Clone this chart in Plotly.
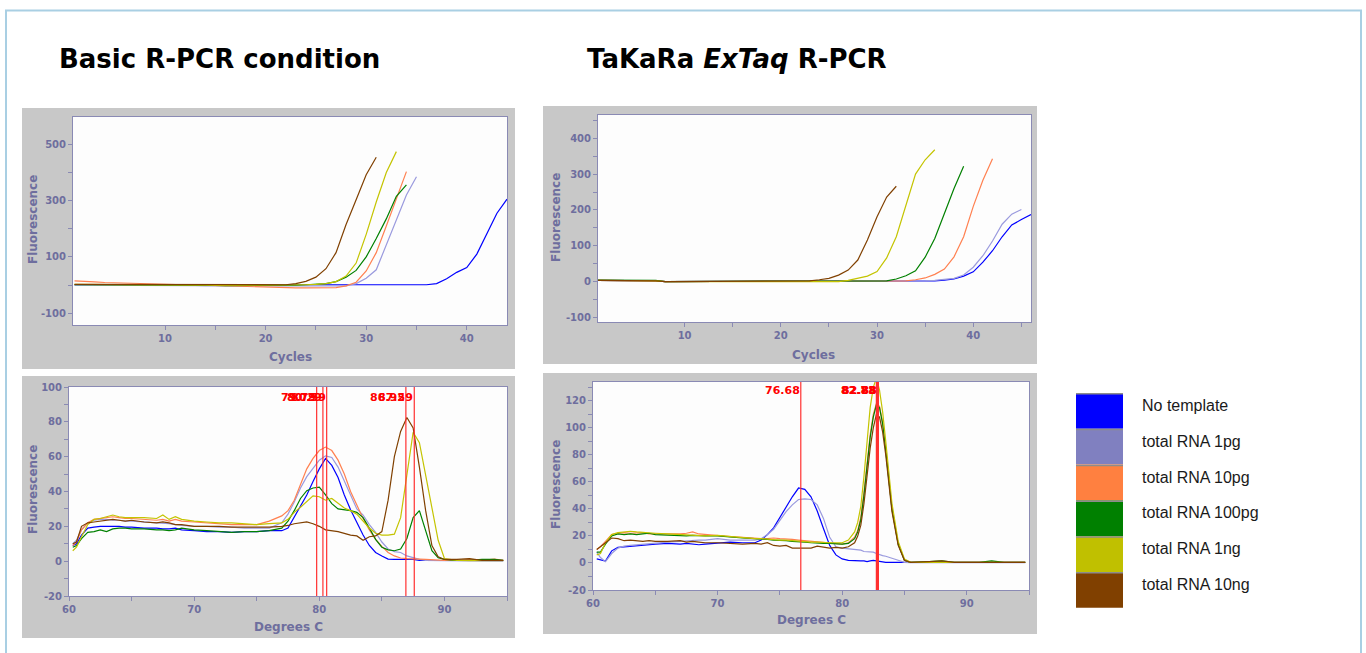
import plotly.graph_objects as go

W, H = 1366, 653

# ---------------- data ----------------
SERIES = ["No template", "total RNA 1pg", "total RNA 10pg",
          "total RNA 100pg", "total RNA 1ng", "total RNA 10ng"]
LINE_COLORS = ["#0000ff", "#9a9ade", "#ff8050", "#008000", "#c4c400", "#804000"]
KEY_COLORS = ["#0000ff", "#8080c0", "#ff8040", "#008000", "#c0c000", "#804000"]
PANEL_TITLES = ["Basic R-PCR condition", "TaKaRa <i>ExTaq</i> R-PCR"]

# Amplification curves, basic condition (values per cycle starting at cycle 1)
basic_blue = [1, 1, 1, 1, 0, 0, 0, 0, 0, 0,
              0, 0, 0, 0, 0, 0, 0, 0, -1, -1,
              -1, -1, -1, -1, -1, -1, -1, -1, -1, -1,
              0, 0, 0, 0, 0, 1,
              5, 22, 45, 62, 110, 180, 255, 305]
basic_purple = [0, 0, 0, 0, 0, 0, 0, 0, 0, 0,
                0, 0, -2, -3, -3, -3, -2, -2, -2, -2,
                -2, -2, -3, -3, -3, -3, -3, -3, 5,
                24, 54, 143, 237, 320, 385]
basic_orange = [15, 14, 11, 9, 8, 7, 6, 5, 4, 3,
                2, 1, 0, -1, -2, -3, -4, -6, -8, -9,
                -10, -10, -10, -10, -10, -10, -9, -3,
                10, 50, 115, 210, 310, 403]
basic_green = [1, 1, 1, 1, 1, 1, 0, 0, 0, 0,
               0, 0, 0, 0, -1, -2, -2, -2, -2, -2,
               -1, -1, 0, 1, 2,
               5, 12, 28, 52, 100, 165, 235, 315, 356]
basic_yellow = [2, 2, 2, 2, 1, 1, 1, 1, 1, 1,
                0, 0, 0, 0, -1, -1, -1, -1, -1, -1,
                -1, 0, 0, 1, 2, 5,
                12, 32, 78, 180, 295, 400, 474]
basic_brown = [2, 2, 2, 2, 2, 1, 1, 1, 1, 1,
               1, 1, 0, 0, 0, 0, 0, 0, 0, 0,
               0, 1,
               5, 13, 28, 58, 115, 215, 303, 392, 454]

# Amplification curves, TaKaRa ExTaq
extaq_blue = [3, 3, 3, 3, 3, 3, 2, 0, 0, 0,
              0, 0, 0, 0, 0, 0, 0, 0, 0, 0,
              0, 0, 0, 0, 0, 0, 0, 0, 0, 0,
              0, 0, 0, 1, 1,
              2, 4, 7, 15, 27, 54, 86, 125, 158, 173, 187]
extaq_purple = [3, 3, 3, 3, 3, 3, 2, 0, 0, 0,
                0, 0, 0, 0, 0, 0, 0, 0, 0, 0,
                0, 0, 0, 0, 0, 0, 0, 0, 0, 0,
                0, 0, 1, 1, 2,
                3, 6, 9, 18, 40, 72, 113, 160, 188, 201]
extaq_orange = [3, 3, 3, 3, 3, 3, 2, 0, 0, 0,
                0, 0, 0, 0, 0, 0, 0, 0, 0, 0,
                0, 0, 0, 0, 0, 0, 0, 0, 0, 0,
                0, 1,
                2, 5, 10, 20, 35, 69, 125, 210, 283, 343]
extaq_green = [4, 4, 4, 4, 4, 4, 3, 0, 0, 0,
               0, 0, 0, 0, 0, 0, 0, 0, 0, 0,
               0, 0, 0, 0, 0, 0, 0, 0, 0,
               1, 2, 7, 16, 30, 68, 120, 190, 260, 322]
extaq_yellow = [3, 3, 3, 3, 3, 3, 2, 0, 0, 0,
                0, 0, 0, 0, 0, 0, 0, 0, 0, 0,
                0, 0, 0, 0, 0, 0,
                3, 8, 15, 28, 66, 125, 215, 300, 340, 368]
extaq_brown = [3, 3, 3, 3, 3, 3, 2, 0, 0, 0,
               0, 0, 0, 0, 0, 0, 0, 0, 0, 0,
               0, 0,
               2, 5, 9, 18, 32, 60, 116, 181, 236, 266]

# Melt curves, basic condition
melt_temp_basic = [60.3, 60.6, 61, 61.5, 62, 62.5, 63, 63.5, 64, 64.5,
                   65, 66, 67, 67.5, 68, 68.5, 69, 70, 71, 72,
                   73, 74, 75, 76, 77, 77.5, 78, 78.5, 79, 79.5,
                   80, 80.5, 81, 81.5, 82, 82.5, 83, 83.5, 84, 84.5,
                   85, 85.5, 86, 86.5, 87, 87.5, 88, 88.5, 89, 89.5,
                   90, 91, 92, 93, 94, 94.7]
mb_blue = [9, 10, 15, 19, 19.5, 20, 20, 20, 20, 19.5,
           19.5, 19, 19, 18.5, 18.5, 19, 18, 17.5, 17, 17,
           16.5, 17, 17, 17.5, 17.5, 19, 25.5, 31.5, 38, 45.7,
           53, 59, 55, 48, 38, 29.5, 22, 15, 9, 5,
           3, 1.2, 1, 1, 1, 1, 0.5, 0.5, 0.5, 0.5,
           0.3, 0.3, 0.3, 0.5, 0.3, 0.3]
mb_purple = [10, 12, 18, 22, 23.5, 24, 24, 23.5, 23.5, 23,
             23, 22.5, 22, 22, 21.5, 21, 20.5, 20, 20, 19.5,
             19.5, 19, 19, 19, 22, 27, 34, 42, 48.5, 53,
             58, 60.5, 59.5, 54, 46, 37, 30, 26.5, 21, 16.5,
             11, 7, 5.5, 5, 3, 2, 1, 0.5, 0.5, 0.3,
             0.3, 0.3, 0.3, 0.3, 0.3, 0.3]
mb_orange = [9, 11, 18, 22, 24, 24.5, 25, 25.5, 25, 24.5,
             24.5, 24, 23.5, 24, 23, 24, 23, 22.5, 22, 21.5,
             21, 21, 21, 23, 26, 29, 35, 44, 53, 59,
             63.5, 65.5, 63.5, 58, 50, 40, 32, 24.5, 18, 12.5,
             8.5, 5, 3, 1.8, 1.5, 1.5, 1.2, 1, 0.8, 0.5,
             0.5, 0.5, 1, 0.5, 1.2, 0.5]
mb_green = [8, 9, 13, 16.5, 17, 18, 17, 18.5, 19, 19,
            18.5, 18.5, 18, 18, 17.5, 18, 19, 18, 17.5, 17,
            16.5, 17, 17, 17.5, 19, 23, 29, 36, 40.5, 42,
            42.5, 38, 33, 30, 29.5, 29, 28, 25, 19, 12.5,
            8, 6.5, 6, 7, 13, 25, 29, 18, 6, 2,
            1, 0.5, 0.5, 1, 1, 0.5]
mb_yellow = [6, 8, 14, 21, 24, 24.5, 25.5, 26.5, 25.5, 25,
             25, 25, 24.5, 26.5, 24, 25.5, 24, 23, 22.5, 22,
             22, 21.5, 21, 21.5, 22, 24, 28, 31, 34, 37.5,
             37, 35, 36, 33, 30.5, 29, 27, 23, 19, 16,
             15, 15, 15.5, 25, 50, 74, 68, 50, 30, 12,
             1.5, 0.5, 0.3, 0.3, 0.3, 0.3]
mb_brown = [10, 11, 20, 22, 22.5, 23, 23.5, 24, 23.5, 23,
            23.5, 22.5, 22, 22.5, 22, 21, 21, 20, 20, 20,
            19.5, 19.5, 19.5, 19.5, 20, 20.5, 21.5, 22, 22.5, 21.5,
            20, 18, 17.5, 17, 16, 15, 14.5, 12, 14, 14.5,
            17, 35, 60, 74.5, 82.5, 76.5, 54, 29, 9, 2.5,
            1, 1, 1.5, 0.5, 0.5, 0.5]

# Melt curves, TaKaRa ExTaq
melt_temp_extaq = [60.3, 60.6, 61, 61.5, 62, 62.5, 63, 63.5, 64, 64.5,
                   65, 66, 67, 67.5, 68, 68.5, 69, 70, 71, 72,
                   73, 73.5, 74, 74.5, 75, 75.5, 76, 76.5, 77, 77.5,
                   78, 78.5, 79, 79.5, 80, 80.5, 81, 81.25, 81.5, 81.75,
                   82, 82.25, 82.5, 82.75, 83, 83.25, 83.5, 83.75, 84, 84.5,
                   85, 85.5, 86, 87, 88, 89, 90, 91, 92, 93,
                   94, 94.7]
me_blue = [3, 2.5, 1.5, 9, 11.5, 12, 12.5, 13, 13.5, 14,
           14, 14.5, 14, 14.5, 14, 13.5, 14, 15, 15.5, 15,
           15, 17, 21, 26, 34, 42, 49, 55.5, 54.5, 49,
           38.5, 25.5, 13, 6, 3, 2, 1.5, 1.5, 1.5, 1.5,
           1, 1.5, 2, 1.5, 1, 0.5, 0.5, 0.5, 0.5, 0.5,
           0.5, 0.5, 0.5, 0.5, 0.5, 0.5, 0.5, 0.5, 0.5, 0.5,
           1, 0.5]
me_purple = [8, 4, 1, 7, 11, 12.5, 13, 13.5, 14, 14.5,
             15, 15.5, 16, 16.5, 16.5, 17, 17, 18, 17, 17,
             17, 18, 21, 25, 32, 38, 43, 47, 47.5, 47,
             43, 33, 19, 12, 11, 10.5, 10.5, 10, 9.5, 8.5,
             8.5, 8.5, 8, 7, 6, 5.5, 5, 4, 3.5, 2,
             0.5, 0.3, 0.3, 0.3, 0.3, 0.3, 0.3, 0.3, 0.3, 0.3,
             0.3, 0.3]
me_orange = [10, 12, 16, 21, 22, 22.5, 22, 22, 22.5, 21.5,
             21.5, 21, 21.5, 22, 23, 21.5, 21, 20.5, 19.5, 19,
             18, 18, 18, 18.5, 18, 18, 17.5, 17, 16.5, 16,
             15.5, 15, 14.5, 14, 14, 15, 19, 24, 34, 52,
             75, 95, 110, 118, 116, 104, 84, 60, 40, 14,
             2, 0.5, 0.5, 1, 1, 0.5, 0.5, 0.5, 0.5, 1,
             0.5, 0.5]
me_green = [8, 8, 14, 20, 21.5, 21, 21.5, 21, 21.5, 22,
            21, 20.5, 20.5, 20, 20.5, 20, 20, 20, 19, 18.5,
            18, 18, 17.5, 17, 17, 16.5, 16, 16, 15.5, 15,
            14.5, 14.5, 14.5, 14, 14, 14.5, 18, 23, 32, 50,
            72, 93, 108, 117, 115, 103, 83, 60, 40, 14,
            2, 0.5, 0.5, 1, 1.5, 0.5, 0.5, 0.5, 1.5, 0.5,
            0.5, 0.5]
me_yellow = [6, 7, 15, 21, 22.5, 23, 23.5, 23, 22.5, 22,
             22, 21.5, 21, 20.5, 20.5, 20, 20, 20.5, 19.5, 18.5,
             18, 18, 17.5, 17, 17, 17, 16.5, 16, 16, 15.5,
             15.5, 15, 15, 15, 15, 17, 23, 30, 42, 64,
             92, 115, 130, 137, 128, 112, 90, 65, 44, 16,
             3, 0.5, 0.5, 0.5, 0.5, 0.5, 1, 0.5, 0.5, 0.5,
             0.5, 0.5]
me_brown = [10, 12, 15, 18.5, 18, 16.5, 17, 16.5, 16, 16.5,
            16, 16, 16.5, 15.5, 16, 15.5, 15, 15, 14.5, 14,
            14.5, 14, 15, 13, 12.5, 13, 11, 11, 11, 11,
            12.5, 11.5, 11, 11.5, 11, 12, 15, 20, 28, 44,
            65, 85, 100, 110, 108, 97, 80, 58, 38, 13,
            2, 0.5, 0.5, 1, 1.5, 0.5, 0.5, 0.5, 0.5, 0.5,
            0.5, 0.5]

# Melting-peak markers (degrees C)
peaks_basic = [79.79, 80.29, 80.59, 86.92, 87.59]
peaks_extaq = [76.68, 82.78, 82.83, 82.88]

# Tick labels
amp_x_ticks = [10, 20, 30, 40]
amp_x_minor = [15, 25, 35, 45]
amp1_y_ticks = [-100, 100, 300, 500]
amp1_y_minor = [0, 200, 400, 600]
amp2_y_ticks = [-100, 0, 100, 200, 300, 400]
amp2_y_minor = [-50, 50, 150, 250, 350, 450]
melt_x_ticks = [60, 70, 80, 90]
melt_x_minor = [65, 75, 85, 95]
melt1_y_ticks = [-20, 0, 20, 40, 60, 80, 100]
melt1_y_minor = [-10, 10, 30, 50, 70, 90]
melt2_y_ticks = [-20, 0, 20, 40, 60, 80, 100, 120]
melt2_y_minor = [-10, 10, 30, 50, 70, 90, 110, 130]

# ---------------- layout helpers ----------------
def fx(px):
    return px / W


def fy(py):
    return 1 - py / H


SLATE = "#6e6e9e"
AXLINE = "#8a8ab4"
TICKFONT = dict(family="DejaVu Sans", size=10, color=SLATE, weight="bold")
TITLEFONT = dict(family="DejaVu Sans", size=12, color=SLATE, weight="bold")

amp_basic = [basic_blue, basic_purple, basic_orange, basic_green, basic_yellow, basic_brown]
amp_extaq = [extaq_blue, extaq_purple, extaq_orange, extaq_green, extaq_yellow, extaq_brown]
melt_basic = [mb_blue, mb_purple, mb_orange, mb_green, mb_yellow, mb_brown]
melt_extaq = [me_blue, me_purple, me_orange, me_green, me_yellow, me_brown]

panels = [
    dict(gray=(22, 108, 515, 369), plot=(73, 117, 507, 325),
         xr=[0.85, 44.0], yr=[-142, 597],
         xt=amp_x_ticks, xm=amp_x_minor[:3], yt=amp1_y_ticks, ym=amp1_y_minor,
         ylab=(33, 220), xlab=(290, 357), xtitle="Cycles"),
    dict(gray=(543, 106, 1037, 364), plot=(598, 115, 1031, 322),
         xr=[1.0, 46.0], yr=[-113, 465],
         xt=amp_x_ticks, xm=amp_x_minor, yt=amp2_y_ticks, ym=amp2_y_minor,
         ylab=(556, 218), xlab=(813, 355), xtitle="Cycles"),
    dict(gray=(22, 376, 515, 638), plot=(69, 387, 507, 596),
         xr=[60, 95], yr=[-20, 100],
         xt=melt_x_ticks, xm=melt_x_minor, yt=melt1_y_ticks, ym=melt1_y_minor,
         ylab=(33, 490), xlab=(288, 627), xtitle="Degrees C"),
    dict(gray=(543, 373, 1037, 634), plot=(593, 382, 1029, 590),
         xr=[60, 95], yr=[-20, 134],
         xt=melt_x_ticks, xm=melt_x_minor, yt=melt2_y_ticks, ym=melt2_y_minor,
         ylab=(556, 485), xlab=(811, 620), xtitle="Degrees C"),
]

fig = go.Figure()
shapes = []
annotations = []
layout_axes = {}

# page border
shapes.append(dict(type="rect", xref="paper", yref="paper",
                   x0=fx(6), x1=fx(1361), y0=fy(680), y1=fy(10.5),
                   line=dict(color="#a9cfe3", width=2), fillcolor="rgba(0,0,0,0)",
                   layer="below"))

for i, p in enumerate(panels):
    n = i + 1
    sfx = "" if n == 1 else str(n)
    gx0, gy0, gx1, gy1 = p["gray"]
    px0, py0, px1, py1 = p["plot"]
    shapes.append(dict(type="rect", xref="paper", yref="paper",
                       x0=fx(gx0), x1=fx(gx1), y0=fy(gy1), y1=fy(gy0),
                       line=dict(width=0), fillcolor="#c8c8c8", layer="below"))
    shapes.append(dict(type="rect", xref="paper", yref="paper",
                       x0=fx(px0), x1=fx(px1), y0=fy(py1), y1=fy(py0),
                       line=dict(width=0), fillcolor="#fdfdfd", layer="below"))
    common = dict(showline=True, linecolor=AXLINE, linewidth=1, mirror=True,
                  ticks="outside", ticklen=4, tickwidth=1, tickcolor=AXLINE,
                  tickfont=TICKFONT, showgrid=False, zeroline=False,
                  showspikes=False,
                  autorange=False, fixedrange=True, automargin=False)
    layout_axes["xaxis" + sfx] = dict(
        common, domain=[fx(px0), fx(px1)], range=p["xr"], anchor="y" + sfx,
        tickmode="array", tickvals=p["xt"], ticktext=[str(v) for v in p["xt"]],
        minor=dict(tickmode="array", tickvals=p["xm"], ticks="outside",
                   ticklen=4, tickwidth=1, tickcolor=AXLINE, showgrid=False))
    layout_axes["yaxis" + sfx] = dict(
        common, domain=[fy(py1), fy(py0)], range=p["yr"], anchor="x" + sfx,
        tickmode="array", tickvals=p["yt"], ticktext=[str(v) for v in p["yt"]],
        minor=dict(tickmode="array", tickvals=p["ym"], ticks="outside",
                   ticklen=4, tickwidth=1, tickcolor=AXLINE, showgrid=False))
    annotations.append(dict(text="Fluorescence", xref="paper", yref="paper",
                            x=fx(p["ylab"][0]), y=fy(p["ylab"][1]), textangle=-90,
                            showarrow=False, font=TITLEFONT,
                            xanchor="center", yanchor="middle"))
    annotations.append(dict(text=p["xtitle"], xref="paper", yref="paper",
                            x=fx(p["xlab"][0]), y=fy(p["xlab"][1]),
                            showarrow=False, font=TITLEFONT,
                            xanchor="center", yanchor="middle"))

# traces
for k in range(6):
    for vals, sfx in ((amp_basic[k], ""), (amp_extaq[k], "2")):
        fig.add_trace(go.Scatter(x=list(range(1, len(vals) + 1)), y=vals,
                                 mode="lines", name=SERIES[k],
                                 line=dict(color=LINE_COLORS[k], width=1.2),
                                 xaxis="x" + sfx, yaxis="y" + sfx,
                                 showlegend=False, hoverinfo="skip"))
    fig.add_trace(go.Scatter(x=melt_temp_basic, y=melt_basic[k], mode="lines",
                             name=SERIES[k], line=dict(color=LINE_COLORS[k], width=1.2),
                             xaxis="x3", yaxis="y3", showlegend=False, hoverinfo="skip"))
    fig.add_trace(go.Scatter(x=melt_temp_extaq, y=melt_extaq[k], mode="lines",
                             name=SERIES[k], line=dict(color=LINE_COLORS[k], width=1.2),
                             xaxis="x4", yaxis="y4", showlegend=False, hoverinfo="skip"))

# melting peak markers (vertical lines spanning the axis range + labels)
for peaks, ax, yr, ylab, wide in ((peaks_basic, "3", panels[2]["yr"], 397, False),
                                  (peaks_extaq, "4", panels[3]["yr"], 390, True)):
    for j, t in enumerate(peaks):
        lw = 2 if (wide and j > 0) else 1.2
        fig.add_trace(go.Scatter(x=[t, t], y=[yr[0], yr[1]], mode="lines",
                                 line=dict(color="#ff3030", width=lw),
                                 xaxis="x" + ax, yaxis="y" + ax,
                                 showlegend=False, hoverinfo="skip"))
        annotations.append(dict(text=f"{t:.2f}", xref="x" + ax, yref="paper",
                                x=t, y=fy(ylab), xanchor="right", yanchor="middle",
                                showarrow=False, xshift=1,
                                font=dict(family="DejaVu Sans", size=11,
                                          color="#ff0000", weight="bold")))

# panel titles
for text, cx in zip(PANEL_TITLES, (219, 737)):
    annotations.append(dict(text="<b>" + text + "</b>", xref="paper", yref="paper",
                            x=fx(cx), y=fy(59), xanchor="center", yanchor="middle",
                            showarrow=False,
                            font=dict(family="DejaVu Sans", size=26, color="#000000")))

# key
for k in range(6):
    top = 393 + k * 35.8
    shapes.append(dict(type="rect", xref="paper", yref="paper",
                       x0=fx(1076), x1=fx(1123), y0=fy(top + 35.8), y1=fy(top),
                       line=dict(width=0), fillcolor=KEY_COLORS[k], layer="above"))
    shapes.append(dict(type="line", xref="paper", yref="paper",
                       x0=fx(1076), x1=fx(1123), y0=fy(top + 0.8), y1=fy(top + 0.8),
                       line=dict(color="#8c8c8c", width=1.5), layer="above"))
    annotations.append(dict(text=SERIES[k], xref="paper", yref="paper",
                            x=fx(1140), y=fy(top + 12.5), xanchor="left", yanchor="middle",
                            showarrow=False,
                            font=dict(family="Liberation Sans", size=16, color="#1a1a1a")))

fig.update_layout(width=W, height=H,
                  margin=dict(l=0, r=0, t=0, b=0, pad=0, autoexpand=False),
                  paper_bgcolor="white", plot_bgcolor="rgba(0,0,0,0)",
                  showlegend=False, hovermode=False,
                  shapes=shapes, annotations=annotations,
                  **layout_axes)

# place the figure flush with the window's top-left corner
fig.write_html("out.html",
               config={"displayModeBar": False, "staticPlot": True},
               post_script="document.body.style.margin='0px';"
                           "document.body.style.overflow='hidden';")
